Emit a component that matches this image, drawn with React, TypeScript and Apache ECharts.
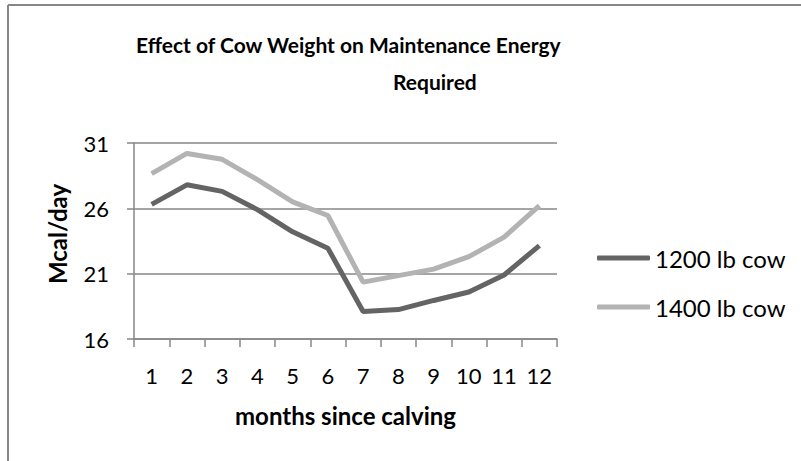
import React, { useEffect, useRef } from "react";
import * as echarts from "echarts";

const months = ["1", "2", "3", "4", "5", "6", "7", "8", "9", "10", "11", "12"];
const cow1200 = [26.3, 27.8, 27.3, 25.9, 24.2, 22.95, 18.1, 18.25, 18.95, 19.6, 20.9, 23.15];
const cow1400 = [28.65, 30.2, 29.75, 28.2, 26.5, 25.45, 20.35, 20.85, 21.35, 22.3, 23.8, 26.2];
const yTicks = [16, 21, 26, 31];

const FONT = "Lato, 'Open Sans', sans-serif";

export default function App() {
  const ref = useRef<HTMLDivElement>(null);
  useEffect(() => {
    if (!ref.current) return;
    const chart = echarts.init(ref.current, undefined, { renderer: "svg" });
    chart.setOption({
      animation: false,
      backgroundColor: "#ffffff",
      textStyle: { fontFamily: FONT, color: "#000" },
      title: [
        {
          text: "Effect of Cow Weight on Maintenance Energy",
          left: 136,
          top: 34,
          padding: 0,
          textStyle: { fontFamily: FONT, fontSize: 21, fontWeight: "bold", color: "#000" },
        },
        {
          text: "Required",
          left: 393,
          top: 71,
          padding: 0,
          textStyle: { fontFamily: FONT, fontSize: 21, fontWeight: "bold", color: "#000" },
        },
      ],
      graphic: [
        { type: "line", shape: { x1: 8, y1: 5, x2: 8, y2: 461 }, style: { stroke: "#878787", lineWidth: 2 } },
        { type: "line", shape: { x1: 8, y1: 5, x2: 801, y2: 5 }, style: { stroke: "#878787", lineWidth: 2 } },
      ],
      legend: {
        orient: "vertical",
        left: 597,
        top: 246,
        itemWidth: 53,
        itemHeight: 5,
        itemGap: 25,
        icon: "roundRect",
        padding: 0,
        textStyle: { fontFamily: FONT, fontSize: 24, color: "#000" },
        data: ["1200 lb cow", "1400 lb cow"],
      },
      grid: { left: 134, right: 244, top: 143, bottom: 122, containLabel: false },
      xAxis: {
        type: "category",
        data: months,
        boundaryGap: true,
        name: "months since calving",
        nameLocation: "middle",
        nameGap: 64,
        nameTextStyle: { fontFamily: FONT, fontSize: 24, fontWeight: "bold", color: "#000" },
        axisLine: { lineStyle: { color: "#878787", width: 1.5 } },
        axisTick: { show: true, length: 8, lineStyle: { color: "#878787", width: 1.5 } },
        axisLabel: { fontFamily: FONT, fontSize: 22, color: "#000", margin: 25 },
        splitLine: { show: false },
      },
      yAxis: {
        type: "value",
        min: 16,
        max: 31,
        name: "Mcal/day",
        nameLocation: "middle",
        nameGap: 65,
        nameTextStyle: { fontFamily: FONT, fontSize: 24, fontWeight: "bold", color: "#000", padding: [0, 0, 0, 14] },
        axisLine: { show: true, lineStyle: { color: "#878787", width: 1.5 } },
        axisTick: { show: true, length: 7, customValues: yTicks, lineStyle: { color: "#878787", width: 1.5 } },
        axisLabel: { fontFamily: FONT, fontSize: 22, color: "#000", margin: 25, customValues: yTicks },
        splitLine: { show: true, lineStyle: { color: "#878787", width: 1.5 } },
      },
      series: [
        {
          name: "1200 lb cow",
          type: "line",
          data: cow1200,
          symbol: "none",
          lineStyle: { color: "#646464", width: 5 },
          itemStyle: { color: "#646464" },
        },
        {
          name: "1400 lb cow",
          type: "line",
          data: cow1400,
          symbol: "none",
          lineStyle: { color: "#b3b3b3", width: 5 },
          itemStyle: { color: "#b3b3b3" },
        },
      ],
    });
    return () => chart.dispose();
  }, []);
  return (
    <div
      ref={ref}
      style={{ position: "fixed", left: 0, top: 0, width: 801, height: 461 }}
    />
  );
}
